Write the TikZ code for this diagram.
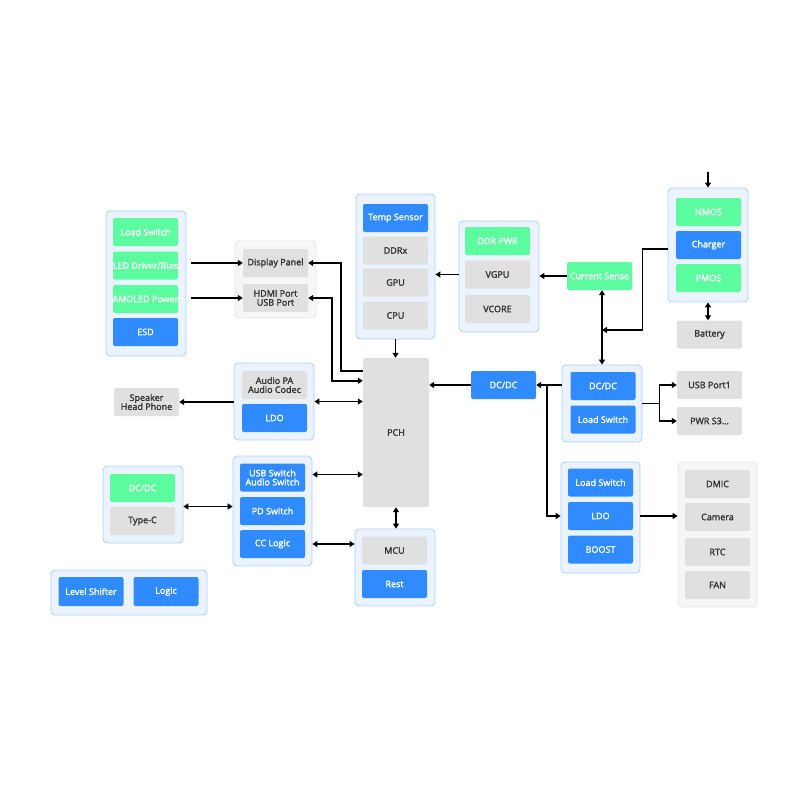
\documentclass[tikz,border=0pt]{standalone}
\usepackage{fontspec}
\setmainfont{Open Sans}
\newfontfamily\boxfont{Open Sans}[FakeBold=2]
\usetikzlibrary{arrows.meta}
\definecolor{blu}{HTML}{2F8BFF}
\definecolor{grn}{HTML}{5CFD9E}
\definecolor{gry}{HTML}{E0E0E0}
\definecolor{ink}{HTML}{333333}
\definecolor{grpfill}{HTML}{EAF3FF}
\definecolor{grpline}{HTML}{A9CFFF}
\definecolor{pgrpfill}{HTML}{F6F6F6}
\definecolor{pgrpline}{HTML}{E6E6E6}
\begin{document}
\begin{tikzpicture}[x=1pt, y=-1pt,
    >={Triangle[length=5pt,width=6pt]},
    box/.style={rectangle, rounded corners=2pt, inner sep=0pt, minimum width=65pt, minimum height=28pt, font=\boxfont\fontsize{9}{9}\selectfont, align=center},
    bluebox/.style={box, fill=blu, text=white},
    greenbox/.style={box, fill=grn, text=white},
    graybox/.style={box, fill=gry, text=ink},
    grp/.style={rectangle, draw=grpline, fill=grpfill, rounded corners=4pt, line width=0.8pt, inner sep=0pt},
    pgrp/.style={grp, draw=pgrpline, fill=pgrpfill},
    wire/.style={line width=1.6pt, black}
]
    \useasboundingbox (0,0) rectangle (800,800);

    \node[grp, minimum width=80pt, minimum height=145pt] (gleft) at (146,283.5) {};
    \node[greenbox] (loadsw) at (145.5,232) {Load Switch};
    \node[greenbox] (ledd) at (145.5,265.5) {\makebox[58pt]{LED Driver/Bias}};
    \node[greenbox] (amoled) at (145.5,299) {\makebox[58pt]{AMOLED Power}};
    \node[bluebox] (esd) at (145.5,332) {ESD};

    \node[pgrp, minimum width=81pt, minimum height=77pt] (gdisp) at (275.5,279.5) {};
    \node[graybox] (dpanel) at (275.5,263) {Display Panel};
    \node[graybox] (hdmi) at (275.5,298) {HDMI Port\\USB Port};

    \node[grp, minimum width=79pt, minimum height=145pt] (gcore) at (395.5,266.5) {};
    \node[bluebox] (temp) at (395.5,218) {Temp Sensor};
    \node[graybox] (ddrx) at (395.5,250.5) {DDRx};
    \node[graybox] (gpu) at (395.5,282.5) {GPU};
    \node[graybox] (cpu) at (395.5,315.5) {CPU};

    \node[graybox, minimum width=66pt, minimum height=149pt] (pch) at (396,432.5) {PCH};

    \node[grp, minimum width=80pt, minimum height=111pt] (gpwr) at (499,276.5) {};
    \node[greenbox] (ddrpwr) at (497.5,241) {DDR PWR};
    \node[graybox] (vgpu) at (497.5,274.5) {VGPU};
    \node[graybox] (vcore) at (497.5,309) {VCORE};

    \node[greenbox] (csense) at (599.5,276) {Current Sense};

    \node[grp, minimum width=80pt, minimum height=114pt] (gchg) at (708,245) {};
    \node[greenbox] (nmos) at (708.5,212) {NMOS};
    \node[bluebox] (charger) at (708.5,245) {Charger};
    \node[greenbox] (pmos) at (708.5,278) {PMOS};
    \node[graybox] (battery) at (709.5,334.5) {Battery};
    \coordinate (vin) at (708,172);

    \node[bluebox] (dcdc) at (503.5,385) {DC/DC};

    \node[grp, minimum width=80pt, minimum height=77pt] (gsys) at (602,403.5) {};
    \node[bluebox] (sysdcdc) at (603,386) {DC/DC};
    \node[bluebox] (sysload) at (603,419.5) {Load Switch};
    \node[graybox] (usbp) at (709.5,385) {USB Port1};
    \node[graybox] (pwrs) at (709.5,421) {PWR S3\dots};

    \node[grp, minimum width=79pt, minimum height=111pt] (gldo) at (600.5,517.5) {};
    \node[bluebox] (ldoload) at (600.5,482.5) {Load Switch};
    \node[bluebox] (ldo) at (600.5,516) {LDO};
    \node[bluebox] (boost) at (600.5,549.5) {BOOST};

    \node[pgrp, minimum width=79pt, minimum height=145pt] (gper) at (717.5,534.5) {};
    \node[graybox] (dmic) at (717.5,484) {DMIC};
    \node[graybox] (camera) at (717.5,517) {Camera};
    \node[graybox] (rtc) at (717.5,552) {RTC};
    \node[graybox] (fan) at (717.5,585) {FAN};

    \node[grp, minimum width=80pt, minimum height=77pt] (gaud) at (274,401.5) {};
    \node[graybox] (codec) at (274.5,385) {Audio PA\\Audio Codec};
    \node[bluebox] (audldo) at (274.5,418) {LDO};
    \node[graybox] (spk) at (146.5,402) {Speaker\\Head Phone};

    \node[grp, minimum width=79pt, minimum height=110pt] (gusb) at (272.5,511) {};
    \node[bluebox] (usbsw) at (272.5,477.5) {USB Switch\\Audio Switch};
    \node[bluebox] (pdsw) at (272.5,511) {PD Switch};
    \node[bluebox] (cclogic) at (272.5,544) {CC Logic};

    \node[grp, minimum width=80pt, minimum height=77pt] (gtc) at (143,504.5) {};
    \node[greenbox] (tcdcdc) at (142.5,488) {DC/DC};
    \node[graybox] (typec) at (142.5,521) {Type-C};

    \node[grp, minimum width=80pt, minimum height=77pt] (gmcu) at (395,567.5) {};
    \node[graybox] (mcu) at (394.5,550.5) {MCU};
    \node[bluebox] (rest) at (394.5,584) {Rest};

    \node[grp, minimum width=156pt, minimum height=45pt] (glvl) at (129,592.5) {};
    \node[bluebox, minimum height=29pt] (lvlsh) at (91,591.5) {Level Shifter};
    \node[bluebox, minimum height=29pt] (logic) at (166,591.5) {Logic};

    \draw[->, wire] ([xshift=5pt]gleft.east |- dpanel.west) -- (dpanel.west);
    \draw[->, wire] ([xshift=5pt]gleft.east |- hdmi.west) -- (hdmi.west);
    \draw[->, wire] ([yshift=-13pt]pch.north west) -- ++(-22,0) |- (dpanel.east);
    \draw[<->, wire] ([yshift=-23pt]pch.north west) -- ++(-31,0) |- (hdmi.east);
    \draw[->, wire] (gcore.south) -- (gcore.south |- pch.north);
    \draw[->, wire] (gpwr.west |- vgpu) -- (gcore.east |- vgpu);
    \draw[->, wire] (csense.west) -- (gpwr.east |- csense.west);
    \draw[<->, wire] (csense.south -| gsys.north) -- (gsys.north);
    \coordinate (tap) at (602,330);
    \draw[->, wire] ([yshift=-4pt]gchg.west) -- ++(-25,0) |- (tap);
    \draw[->, wire] (vin) -- (gchg.north);
    \draw[<->, wire] (gchg.south) -- (gchg.south |- battery.north);
    \draw[->, wire] (dcdc.west) -- (pch.east |- dcdc.west);
    \draw[->, wire] (gsys.west |- dcdc) -- (dcdc.east);
    \coordinate (split) at (547,385);
    \draw[->, wire] (split) |- (gldo.west |- ldo);
    \draw[->, wire] (gsys.east) -- ++(17,0) |- (usbp.west);
    \draw[->, wire] (gsys.east) -- ++(17,0) |- (pwrs.west);
    \draw[->, wire] (gldo.east |- ldo) -- (gper.west |- ldo);
    \draw[->, wire] (gaud.west |- spk.east) -- (spk.east);
    \draw[<->, wire] (gaud.east) -- (pch.west |- gaud.east);
    \draw[<->, wire] ([yshift=3pt]gusb.east |- usbsw) -- ([yshift=3pt]pch.west |- usbsw);
    \draw[<->, wire] ([yshift=-2pt]gtc.east) -- ([yshift=-2pt]gusb.west |- gtc.east);
    \draw[<->, wire] (pch.south) -- (gmcu.north -| pch.south);
    \draw[<->, wire] (gusb.east |- cclogic) -- (gmcu.west |- cclogic);
\end{tikzpicture}
\end{document}
